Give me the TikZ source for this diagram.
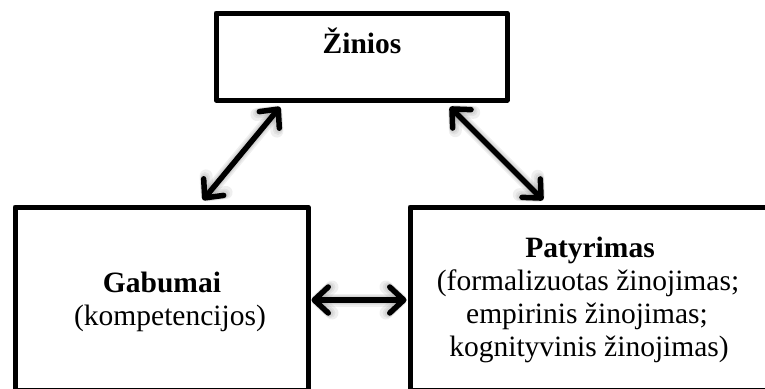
\documentclass[tikz,border=0pt]{standalone}
\usepackage{fontspec}
\setmainfont{Liberation Serif}
\usetikzlibrary{arrows.meta,calc}

\tikzset{
  box/.style={draw=black, line width=5pt, fill=white, rectangle, inner sep=0pt,
    outer sep=0pt, line join=round},
  lbl/.style={inner sep=0pt, anchor=base, font=\fontsize{29.5}{33}\selectfont},
  barb/.tip={Straight Barb[length=14pt,width=26pt,line cap=round,line join=round]},
  dbl/.style={line width=5.5pt, line cap=round, line join=round, barb-barb},
  halo/.style={line width=#1, draw=black!60, opacity=0.10, line cap=round,
    line join=round, barb-barb}
}

\begin{document}
\begin{tikzpicture}[x=1pt,y=-1pt]
  \useasboundingbox (0,0) rectangle (765,388);
  \clip (0,0) rectangle (765,388);

  % boxes
  \node[box, minimum width=291pt, minimum height=87pt] (top) at (361.5,56.5) {};
  \node[box, minimum width=293pt, minimum height=183pt] (left) at (161.5,298.5) {};
  \node[box, minimum width=360pt, minimum height=183pt] (right) at (590,298.5) {};

  % texts
  \node[lbl] (t1) at (362,53) {\textbf{Žinios}};
  \node[lbl] (l1) at (162,292) {\textbf{Gabumai}};
  \node[lbl] (l2) at (170,325) {(kompetencijos)};
  \node[lbl] (r1) at (590,257) {\textbf{Patyrimas}};
  \node[lbl] (r2) at (588,290) {(formalizuotas žinojimas;};
  \node[lbl] (r3) at (587,323) {empirinis žinojimas;};
  \node[lbl] (r4) at (589,356) {kognityvinis žinojimas)};

  % link end points
  \coordinate (a1) at ($(top.south west)+(64,7)$);
  \coordinate (a2) at ($(left.north west)+(188,-7)$);
  \coordinate (b1) at ($(top.south west)+(234,7)$);
  \coordinate (b2) at ($(right.north west)+(133,-7)$);
  \coordinate (c1) at ($(left.east)+(3.5,1.5)$);
  \coordinate (c2) at ($(right.west)+(-3.5,1.5)$);

  % soft shadows under the links
  \foreach \w in {13pt,10pt,8pt} {
    \draw[halo=\w, shift={(1.5,2.5)}] (a1) -- (a2);
    \draw[halo=\w, shift={(1.5,2.5)}] (b1) -- (b2);
    \draw[halo=\w, shift={(1.5,2.5)}] (c1) -- (c2);
  }

  % two-way links
  \draw[dbl] (a1) -- (a2);
  \draw[dbl] (b1) -- (b2);
  \draw[dbl] (c1) -- (c2);
\end{tikzpicture}
\end{document}
